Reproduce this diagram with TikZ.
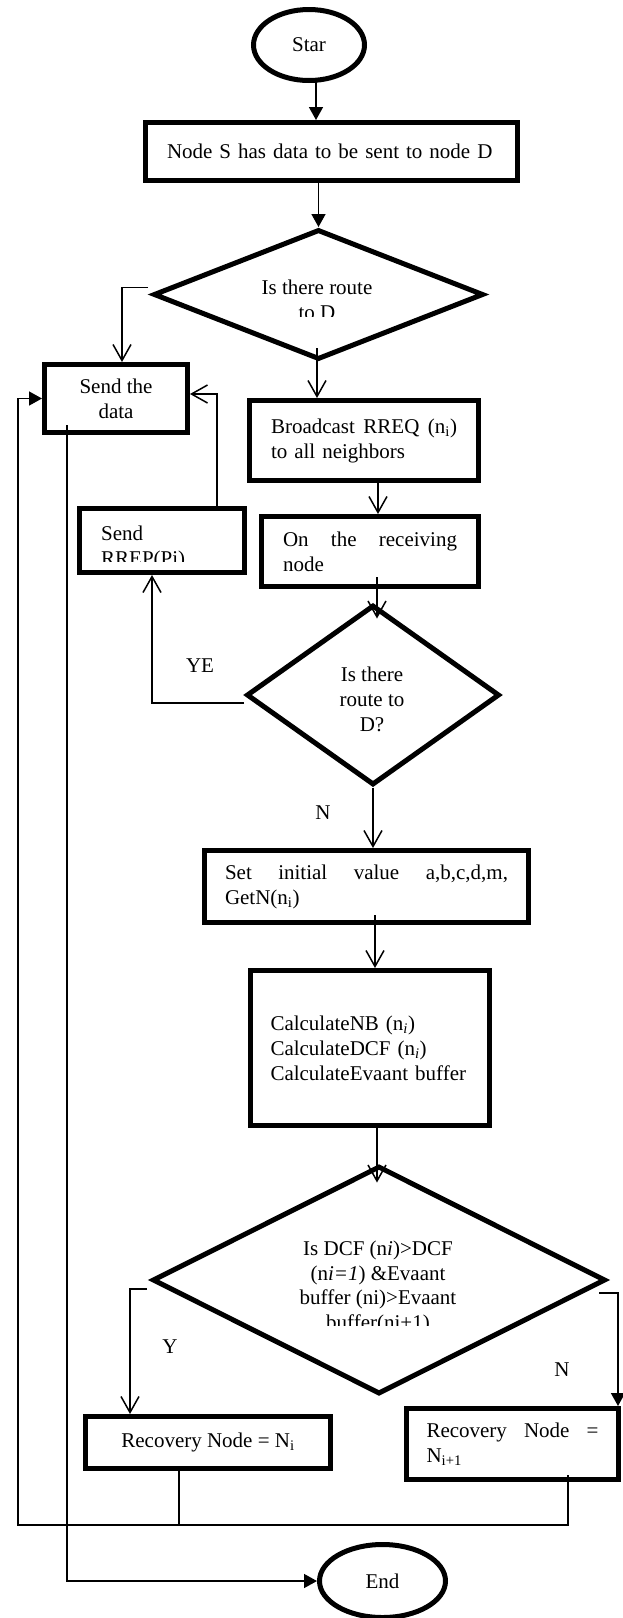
\documentclass[tikz,border=0pt]{standalone}
\usepackage{fontspec}
\setmainfont{Liberation Serif}
\usetikzlibrary{shapes.geometric,arrows.meta,calc}
\begin{document}
\begin{tikzpicture}[x=1pt,y=-1pt,
  every node/.style={font=\fontsize{21}{25}\selectfont, inner sep=0pt},
  boxnode/.style={draw, line width=5pt, rectangle},
  dia/.style={draw, line width=5pt, diamond, inner sep=0pt},
  term/.style={draw, line width=5pt, ellipse, inner sep=0pt},
  conn/.style={line width=1.5pt},
  farrow/.style={conn, -{Triangle[length=13pt,width=14pt]}},
  oarrow/.style={conn, -{Straight Barb[length=16pt,width=18pt]}}]
\fill[white] (0,0) rectangle (622,1618);
\useasboundingbox (0,0) rectangle (622,1618);

% shapes
\node[term, minimum width=111pt, minimum height=71pt] (start) at (309,45) {Star};
\node[boxnode, minimum width=372pt, minimum height=58pt, text width=329pt, align=left] (s) at (331.5,151.5) {Node S has data to be sent to node D};
\node[dia, minimum width=330pt, minimum height=130pt] (d1) at (318.5,294.5) {};
\begin{scope}
\clip (150,265) rectangle (490,316);
\node[anchor=base] (d1a) at (317,294) {Is there route};
\node[anchor=base] (d1b) at (317,319) {to D};
\end{scope}
\node[boxnode, minimum width=143pt, minimum height=68pt, align=center] (send) at (116,398.5) {Send the\\data};
\node[boxnode, minimum width=229pt, minimum height=80pt, text width=186pt, align=left] (bc) at (364,440.5) {Broadcast\hfill RREQ\hfill (n\textsubscript{i})\\to all neighbors};
\node[boxnode, minimum width=217pt, minimum height=70pt, text width=174pt, align=left] (recv) at (370,551.5) {On\hfill the\hfill receiving\\node};
\node[boxnode, minimum width=165pt, minimum height=64pt] (rrep) at (162,540.5) {};
\begin{scope}
\clip (80,510) rectangle (245,561);
\node[anchor=base west] (rrepa) at (101,540) {Send};
\node[anchor=base west] (rrepb) at (101,565) {RREP(Pi)};
\end{scope}
\node[dia, minimum width=253pt, minimum height=180pt] (d2) at (373,695) {};
\node[align=center] (d2t) at (372,699.4) {Is there\\route to\\D?};
\node[boxnode, minimum width=324pt, minimum height=72pt, text width=283pt, align=left] (set) at (366.5,886.5) {Set\hfill initial\hfill value\hfill a,b,c,d,m,\\GetN(n\textsubscript{i})};
\node[boxnode, minimum width=239pt, minimum height=155pt, text width=199pt, align=left] (calc) at (370,1048) {CalculateNB (n\textsubscript{\textit{i}})\\CalculateDCF (n\textsubscript{\textit{i}})\\CalculateEvaant buffer};
\node[dia, minimum width=453pt, minimum height=228pt] (d3) at (379,1280) {};
\begin{scope}
\clip (150,1225) rectangle (610,1325);
\node[anchor=base] (d3a) at (378,1255) {Is DCF (n\textit{i})>DCF};
\node[anchor=base] (d3b) at (378,1280) {(n\textit{i=1}) \&Evaant};
\node[anchor=base] (d3c) at (378,1304) {buffer (ni)>Evaant};
\node[anchor=base] (d3d) at (378,1329) {buffer(ni+1)};
\end{scope}
\node[boxnode, minimum width=245pt, minimum height=52pt] (rni) at (208,1442.5) {Recovery Node = N\textsubscript{i}};
\node[boxnode, minimum width=212pt, minimum height=71pt, text width=172pt, align=left] (rni1) at (512.5,1444) {Recovery\hfill Node\hfill =\\N\textsubscript{i+1}};
\node[term, minimum width=126pt, minimum height=73pt] (end) at (382.5,1581) {End};

% labels
\node (lye) at (200,666) {YE};
\node (ln1) at (323,813) {N};
\node (ly) at (170,1347) {Y};
\node (ln2) at (562,1370) {N};

% connectors
\coordinate (c1) at ($(start.south)+(7,-2)$);
\draw[farrow] (c1) -- (c1 |- s.north);
\draw[farrow] (d1.north |- s.south) -- (d1.north);
\draw[oarrow] ($(d1.west)+(-3,-7)$) -| ($(send.north)+(6,0)$);
\coordinate (c4) at ($(d1.south)+(-1.5,0)$);
\draw[oarrow] ($(c4)+(0,-14)$) -- (c4 |- bc.north);
\coordinate (c5) at ($(recv.north)+(8,0)$);
\draw[oarrow] (c5 |- bc.south) -- (c5);
\draw[oarrow] ($(recv.south)+(7,-12)$) -- ($(d2.north)+(4,16)$);
\coordinate (c7) at ($(rrep.north)+(55,0)$);
\draw[oarrow] (c7) |- ($(send.east)+(0,-4.5)$);
\draw[oarrow] ($(d2.west)+(0,8)$) -| ($(rrep.south)+(-10,0)$);
\draw[oarrow] (d2.south) -- (d2.south |- set.north);
\coordinate (c10) at ($(calc.north)+(5,0)$);
\draw[oarrow] ($(c10 |- set.south)+(0,-10)$) -- (c10);
\draw[oarrow] ($(calc.south)+(7,0)$) -- ($(d3.north)+(-2,19)$);
\draw[oarrow] ($(d3.west)+(-3,9)$) -| ($(rni.north)+(-78,0)$);
\draw[farrow] ($(d3.east)+(-9,13)$) -| ($(rni1.north)+(105.5,0)$);
\coordinate (lp) at (18,1525);
\coordinate (q1) at ($(rni1.south)+(55.5,-7)$);
\draw[farrow] (q1) |- (lp) |- (send.west);
\coordinate (q2) at ($(rni.south)+(-29,0)$);
\draw[conn] (q2) -- (q2 |- lp);
\coordinate (q3) at ($(send.south)+(-49,-10)$);
\draw[farrow] (q3) |- (end.west);
\end{tikzpicture}
\end{document}
